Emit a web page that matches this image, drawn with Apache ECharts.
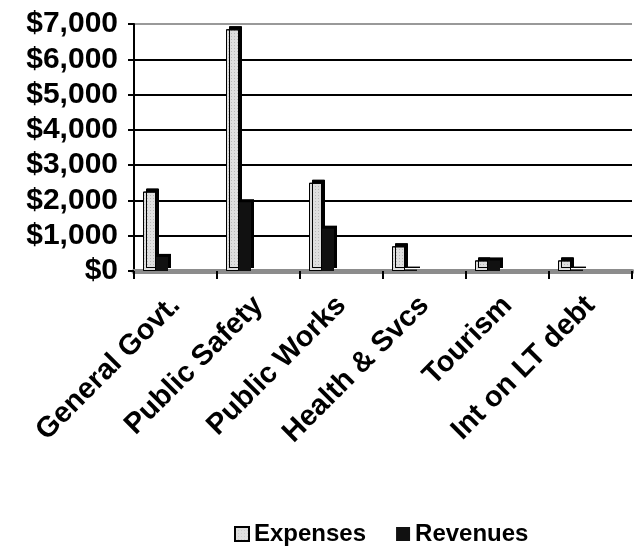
<!DOCTYPE html>
<html>
<head>
<meta charset="utf-8">
<script src="https://cdn.jsdelivr.net/npm/echarts@6/dist/echarts.min.js"></script>
<style>
html,body{margin:0;padding:0;background:#fff;}
#main{width:634px;height:550px;}
</style>
</head>
<body>
<div id="main"></div>
<script>
// 数据
var categories = ['General Govt.', 'Public Safety', 'Public Works', 'Health & Svcs', 'Tourism', 'Int on LT debt'];
var expenses = [2250, 6850, 2500, 700, 300, 300];
var revenues = [400, 1950, 1200, 40, 300, 40];
var yTicks = [0, 1000, 2000, 3000, 4000, 5000, 6000, 7000];

var font = 'Liberation Sans, Arial, sans-serif';

//y轴标签 $7,000
function money(v){
	return '$' + String(v).replace(/\B(?=(\d{3})+(?!\d))/g, ',');
}

var myChart = echarts.init(document.getElementById('main'));
var option = {
	animation: false,
	backgroundColor: '#fff',
	grid: { left: 134, right: 2, top: 24, bottom: 279, containLabel: false },
	legend: {
		data: ['Expenses', 'Revenues'],
		left: 229,
		top: 517,
		itemWidth: 14,
		itemHeight: 14,
		itemGap: 30,
		icon: 'rect',
		textStyle: { fontFamily: font, fontWeight: 'bold', fontSize: 24, color: '#000' }
	},
	xAxis: {
		type: 'category',
		data: categories,
		boundaryGap: true,
		axisLine: { lineStyle: { color: '#8c8c8c', width: 5 } },
		axisTick: { show: true, length: 8, lineStyle: { color: '#000', width: 2 } },
		axisLabel: {
			rotate: 45,
			interval: 0,
			margin: 30,
			fontFamily: font,
			fontWeight: 'bold',
			fontSize: 29,
			color: '#000'
		}
	},
	yAxis: {
		type: 'value',
		min: yTicks[0],
		max: yTicks[yTicks.length - 1],
		interval: 1000,
		axisLine: { show: true, lineStyle: { color: '#000', width: 2 } },
		axisTick: { show: true, length: 6, lineStyle: { color: '#000', width: 2 } },
		axisLabel: {
			margin: 16,
			fontFamily: font,
			fontWeight: 'bold',
			fontSize: 30,
			color: '#000',
			formatter: money
		},
		splitLine: {
			show: true,
			lineStyle: { color: ['#000', '#000', '#000', '#000', '#000', '#000', '#000', '#999'], width: 2 }
		}
	},
	series: [
		{
			name: 'Expenses',
			type: 'bar',
			data: expenses,
			barWidth: 13,
			barGap: '0%',
			itemStyle: {
				color: '#dedede',
				borderColor: '#000',
				borderWidth: 1,
				shadowColor: '#000',
				shadowBlur: 0,
				shadowOffsetX: 3,
				shadowOffsetY: -3,
				decal: {
					symbol: 'rect',
					symbolSize: 0.6,
					color: 'rgba(0,0,0,0.3)',
					dashArrayX: [1, 2],
					dashArrayY: [1, 2],
					rotation: 0
				}
			}
		},
		{
			name: 'Revenues',
			type: 'bar',
			data: revenues,
			barWidth: 12,
			itemStyle: {
				color: '#111',
				shadowColor: '#000',
				shadowBlur: 0,
				shadowOffsetX: 3,
				shadowOffsetY: -3
			}
		},
		{
			//占位,让柱子靠左
			name: 'spacer',
			type: 'bar',
			data: [],
			barWidth: 40,
			silent: true
		}
	]
};
myChart.setOption(option);
</script>
</body>
</html>
